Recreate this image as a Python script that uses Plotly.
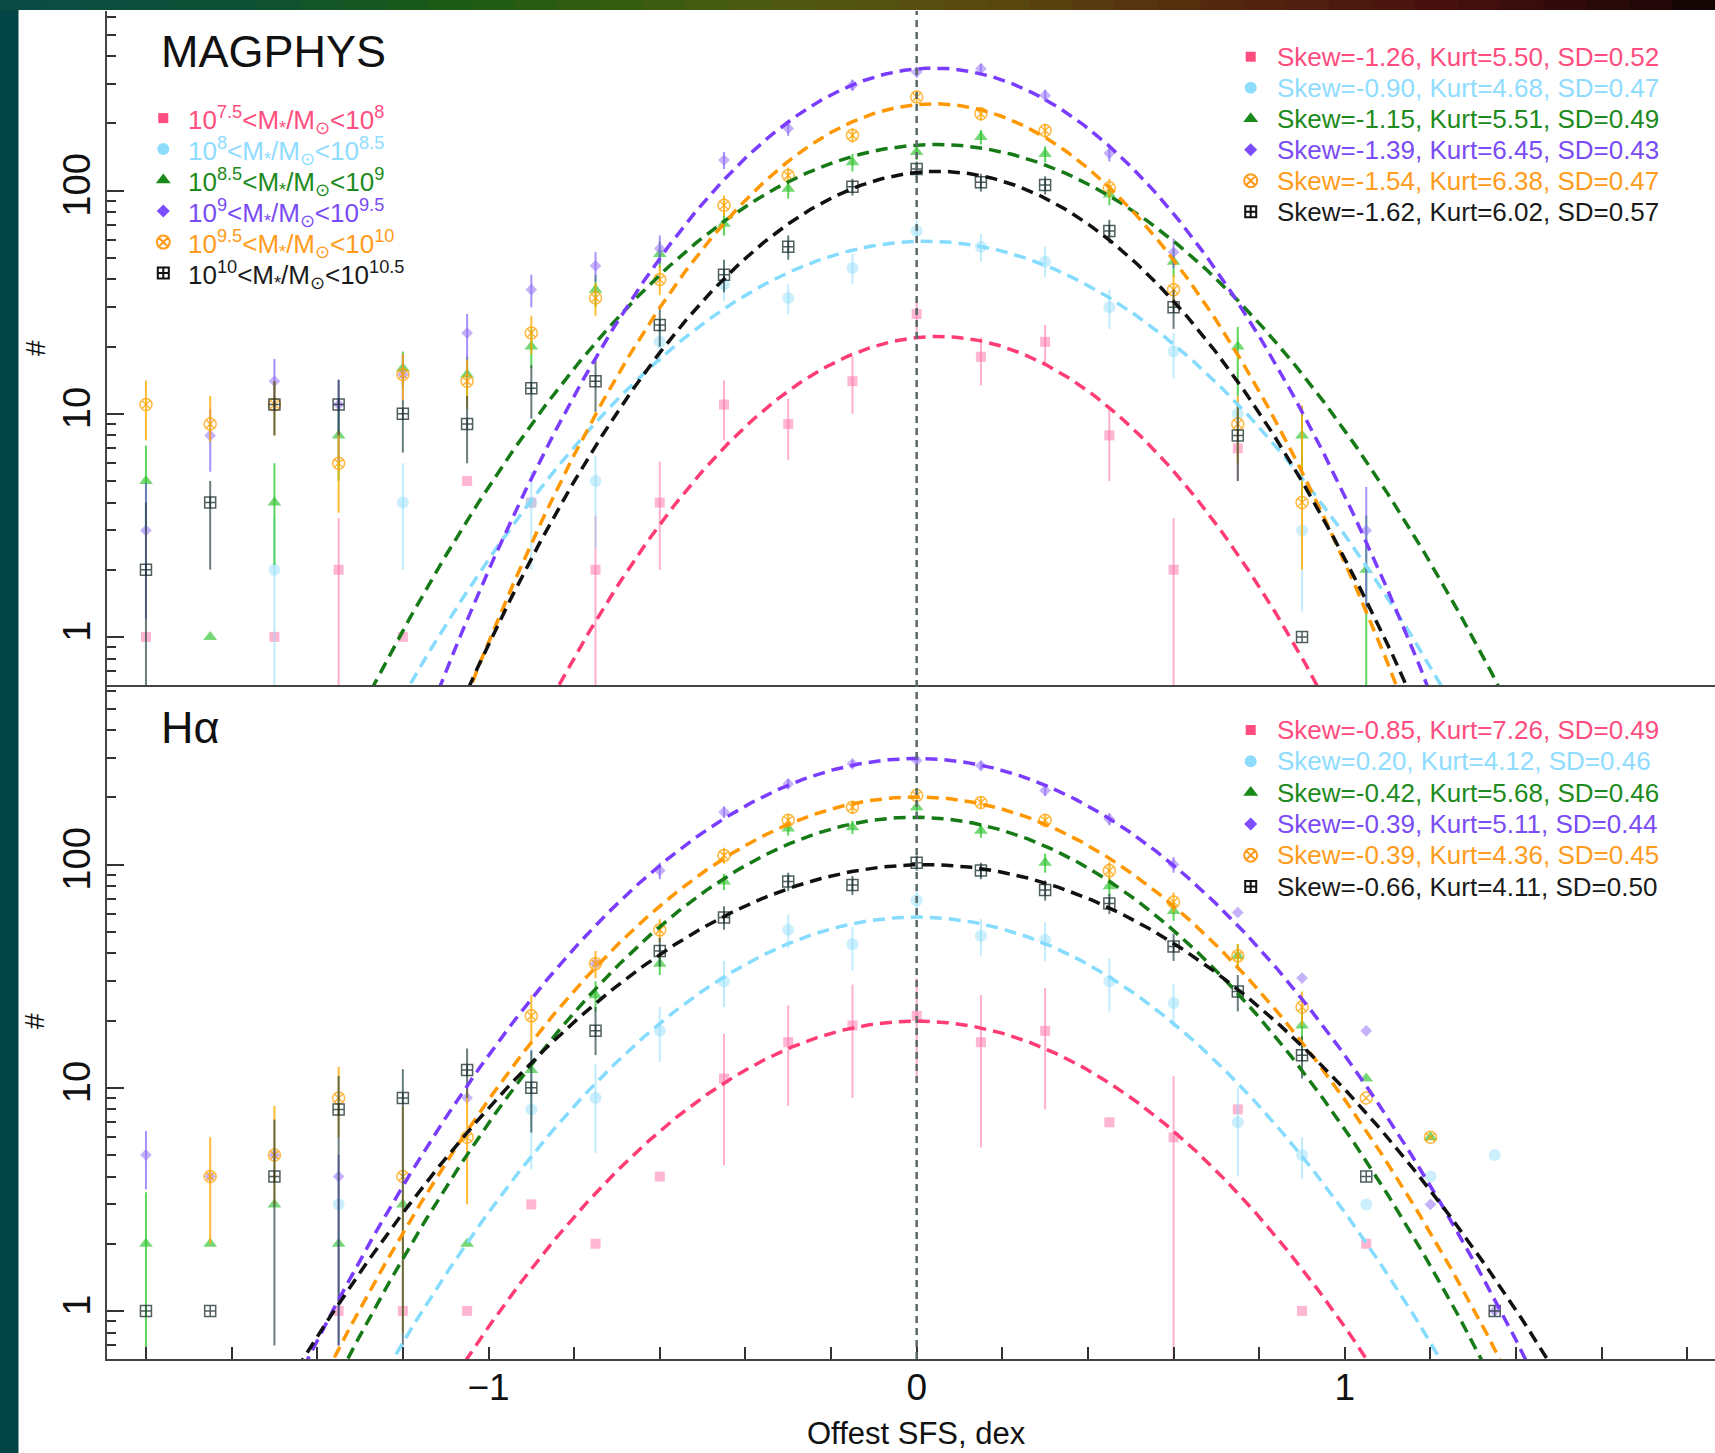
import numpy as np
import plotly.graph_objects as go

# ---------------------------------------------------------------------------
# Histogram bin centres of the offset from the star-forming sequence (dex)
offset_bins = [-1.8, -1.65, -1.5, -1.35, -1.2, -1.05, -0.9, -0.75, -0.6, -0.45, -0.3,
               -0.15, 0.0, 0.15, 0.3, 0.45, 0.6, 0.75, 0.9, 1.05, 1.2, 1.35]

# ---- MAGPHYS panel: counts per bin, upper / lower error bar lengths ----------
magphys_m75 = [1, None, 1, 2, 1, 5, 4, 2, 4, 11, 9, 14, 28, 18, 21, 8, 2, 7, None, None, None, None]
magphys_m75_up = [0, 0, 0, 1.4, 0, 0, 0, 1.5, 2.1, 3.1, 2.7, 4, 4, 4, 4, 2.6, 1.4, 2, 0, 0, 0, 0]
magphys_m75_dn = [0, 0, 0, 2, 0, 0, 0, 2, 2, 3.4, 2.8, 4, 5, 4.6, 4, 3, 2, 2, 0, 0, 0, 0]

magphys_m80 = [None, None, 2, None, 4, None, 4, 5, 21, 38, 33, 45, 66, 56, 48, 30, 19, 10, 3, None, None, None]
magphys_m80_up = [0, 0, 1.5, 0, 2, 0, 1.5, 1.5, 4, 6, 5, 7, 8, 8, 8, 6, 4, 2, 1, 0, 0, 0]
magphys_m80_dn = [0, 0, 2, 0, 2, 0, 2, 2.5, 4, 6, 5, 7, 8, 8, 7, 6, 4.6, 2, 1.7, 0, 0, 0]

magphys_m85 = [5, 1, 4, 8, 16, 15, 20, 36, 52, 71, 102, 134, 149, 174, 146, 96, 48, 20, 8, 2, None, None]
magphys_m85_up = [2.2, 0, 2, 2.5, 3, 3, 4, 6, 7, 8, 10, 12, 12, 13, 12, 10, 7, 4.5, 2.7, 1.5, 0, 0]
magphys_m85_dn = [2, 0, 1.9, 3, 3, 3, 4, 6, 7, 8, 10, 12, 12, 13, 12, 10, 7, 8, 4, 2, 0, 0]

magphys_m90 = [3, 8, 14, 11, 15, 23, 36, 46, 55, 137, 190, 297, 340, 352, 267, 147, 53, None, None, 3, None, None]
magphys_m90_up = [1.9, 2.5, 3.6, 3.2, 3.5, 5, 6, 7, 8, 12, 14, 17, 18, 18, 16, 12, 8, 0, 0, 1.7, 0, 0]
magphys_m90_dn = [1.8, 2.5, 3.6, 5, 3.5, 10, 6, 7, 8, 12, 14, 17, 18, 18, 16, 12, 8, 0, 0, 1.7, 0, 0]

magphys_m95 = [11, 9, 11, 6, 15, 14, 23, 33, 40, 86, 117, 177, 263, 221, 186, 103, 36, 9, 4, None, None, None]
magphys_m95_up = [3.1, 3, 3, 2.4, 3.5, 3.5, 4.5, 5.5, 6, 9, 10, 13, 16, 15, 13, 10, 6, 3, 6.9, 0, 0, 0]
magphys_m95_dn = [3.4, 1.5, 3, 2.4, 3.5, 3.5, 4.5, 5.5, 6, 9, 10, 13, 16, 15, 13, 10, 6, 3, 2, 0, 0, 0]

magphys_m100 = [2, 4, 11, 11, 10, 9, 13, 14, 25, 42, 56, 104, 125, 109, 106, 66, 30, 8, 1, None, None, None]
magphys_m100_up = [2, 1, 3, 3.2, 1.5, 3, 3.5, 3.6, 5, 7, 7, 9, 10, 10, 10, 8, 6, 3, 0, 0, 0, 0]
magphys_m100_dn = [2, 2, 3, 3, 3.3, 3, 3.5, 3.8, 5, 7, 7, 9, 10, 10, 10, 8, 6, 3, 0, 0, 0, 0]

# ---- H-alpha panel -----------------------------------------------------------
halpha_m75 = [None, None, None, 1, 1, 1, 3, 2, 4, 11, 16, 19, 21, 16, 18, 7, 6, 8, 1, 2, None, None]
halpha_m75_up = [0, 0, 0, 0, 0, 0, 0, 0, 0, 6.4, 7.4, 10, 10, 10, 10, 0, 5.3, 0, 0, 0, 0, 0]
halpha_m75_dn = [0, 0, 0, 0, 0, 0, 0, 0, 0, 6.5, 7.7, 10, 10, 10.6, 10, 0, 6, 0, 0, 0, 0, 0]

halpha_m80 = [None, None, None, 3, None, None, 8, 9, 18, 30, 51, 44, 69, 48, 46, 30, 24, 7, 5, 3, 4, 5]
halpha_m80_up = [0, 0, 0, 0, 0, 0, 7, 3.8, 5, 7, 9, 8.5, 10, 9, 9, 8, 5.3, 3, 1, 0, 0, 0]
halpha_m80_dn = [0, 0, 0, 0, 0, 0, 3.7, 3.9, 5, 7, 9, 10.5, 10, 9, 9, 8, 5.3, 3, 1.1, 0, 0, 0]

halpha_m85 = [2, 2, 3, 2, 3, 2, 12, 26, 36, 84, 145, 147, 181, 142, 102, 80, 62, 39, 19, 11, 6, None]
halpha_m85_up = [1.4, 0, 0, 0, 0, 0, 0, 4, 4, 7, 10, 10, 10, 10, 10, 8, 6, 5, 4, 0, 0, 0]
halpha_m85_dn = [2, 0, 0, 0, 0, 0, 0, 4, 4, 7, 10, 10, 10, 10, 10, 8, 6, 5, 4, 0, 0, 0]

halpha_m90 = [5, 4, 5, 4, None, 9, None, 36, 94, 172, 230, 283, 293, 278, 215, 160, 100, 61, 31, 18, 3, 1]
halpha_m90_up = [1.4, 0, 0, 1, 0, 0, 0, 0, 8, 10, 12, 12, 12, 12, 12, 10, 8, 0, 0, 0, 0, 0]
halpha_m90_dn = [1.5, 0, 0, 3.3, 0, 0, 0, 0, 8, 10, 12, 12, 12, 12, 12, 10, 8, 0, 0, 0, 0, 0]

halpha_m95 = [None, 4, 5, 9, 4, 6, 21, 36, 51, 110, 158, 181, 204, 190, 158, 94, 68, 39, 23, 9, 6, None]
halpha_m95_up = [0, 2, 3.3, 3.4, 4.3, 4, 5, 5, 6, 9, 11, 12, 13, 12, 11, 9, 7, 5, 4, 0, 0, 0]
halpha_m95_dn = [0, 2, 2, 3, 3.2, 3, 5, 5, 6, 9, 11, 12, 13, 12, 11, 9, 7, 5, 4, 0, 0, 0]

halpha_m100 = [1, 1, 4, 8, 9, 12, 10, 18, 41, 58, 84, 81, 102, 94, 77, 67, 43, 27, 14, 4, None, 1]
halpha_m100_up = [0, 0, 3.2, 3.3, 3.1, 3, 4.7, 5, 6, 7, 8, 8, 8, 8, 8, 7, 6, 5, 3, 0, 0, 0]
halpha_m100_dn = [0, 0, 3.3, 7.3, 8.3, 3, 3.7, 4, 6, 7, 8, 8, 8, 8, 8, 7, 6, 5, 3, 0, 0, 0]

# ---- Gaussian fits (amplitude, centre, width) per mass bin -------------------
magphys_fit_amp = [22.2, 59.3, 161, 354, 245, 122]
magphys_fit_mu = [0.05, 0.02, 0.045, 0.04, 0.04, 0.05]
magphys_fit_sigma = [0.33, 0.398, 0.393, 0.323, 0.312, 0.336]

halpha_fit_amp = [19.9, 58.2, 163, 299, 201, 100]
halpha_fit_mu = [0.0, 0.0, -0.005, 0.0, 0.0, 0.02]
halpha_fit_sigma = [0.398, 0.405, 0.396, 0.404, 0.40, 0.455]

# ---- labels ------------------------------------------------------------------
mass_bin_labels = [
    "10<sup>7.5</sup>&lt;M<sub>*</sub>/M<sub>⊙</sub>&lt;10<sup>8</sup>",
    "10<sup>8</sup>&lt;M<sub>*</sub>/M<sub>⊙</sub>&lt;10<sup>8.5</sup>",
    "10<sup>8.5</sup>&lt;M<sub>*</sub>/M<sub>⊙</sub>&lt;10<sup>9</sup>",
    "10<sup>9</sup>&lt;M<sub>*</sub>/M<sub>⊙</sub>&lt;10<sup>9.5</sup>",
    "10<sup>9.5</sup>&lt;M<sub>*</sub>/M<sub>⊙</sub>&lt;10<sup>10</sup>",
    "10<sup>10</sup>&lt;M<sub>*</sub>/M<sub>⊙</sub>&lt;10<sup>10.5</sup>",
]
magphys_stats = [
    "Skew=-1.26, Kurt=5.50, SD=0.52",
    "Skew=-0.90, Kurt=4.68, SD=0.47",
    "Skew=-1.15, Kurt=5.51, SD=0.49",
    "Skew=-1.39, Kurt=6.45, SD=0.43",
    "Skew=-1.54, Kurt=6.38, SD=0.47",
    "Skew=-1.62, Kurt=6.02, SD=0.57",
]
halpha_stats = [
    "Skew=-0.85, Kurt=7.26, SD=0.49",
    "Skew=0.20, Kurt=4.12, SD=0.46",
    "Skew=-0.42, Kurt=5.68, SD=0.46",
    "Skew=-0.39, Kurt=5.11, SD=0.44",
    "Skew=-0.39, Kurt=4.36, SD=0.45",
    "Skew=-0.66, Kurt=4.11, SD=0.50",
]
panel_titles = ["MAGPHYS", "Hα"]
x_title = "Offest SFS, dex"
y_title = "#"

# ---------------------------------------------------------------------------
# styling per mass bin
symbols = ["square", "circle", "triangle-up", "diamond", "circle-x-open", "square-cross-open"]
marker_sizes = [10, 12, 12, 9, 12, 11]
point_colors = ["rgba(255,110,165,0.5)", "rgba(140,220,250,0.45)", "rgba(45,195,45,0.65)",
                "rgba(150,115,245,0.55)", "rgba(255,160,0,0.75)", "rgba(20,40,40,0.75)"]
bar_colors = ["rgba(255,110,165,0.55)", "rgba(140,220,250,0.55)", "rgba(40,200,40,0.75)",
              "rgba(110,70,250,0.6)", "rgba(255,170,0,0.8)", "rgba(40,70,70,0.7)"]
fit_colors = ["#ff3d74", "#86dcff", "#167a16", "#7a3cff", "#ff9800", "#111111"]
key_colors = ["#ff4d80", "#8edcfb", "#1a8a1a", "#7b4dff", "#ff9a1a", "#111111"]
text_colors = ["#ff4d80", "#8fdcff", "#208a20", "#7a4cf5", "#ff9c20", "#1a1a1a"]
FONT = "Liberation Sans, Arial, Helvetica, sans-serif"

W, H = 1715, 1453
L, R, T, B = 107, 1715, 11, 1359          # plot area in pixels
X_RANGE = [-1.891, 1.8645]
Y_RANGE = [-0.2156, 2.805]


def fx(px):
    return (px - L) / (R - L)


def fy(py):
    return (B - py) / (B - T)


fig = go.Figure()

panels = [
    ("x", "y", [magphys_m75, magphys_m80, magphys_m85, magphys_m90, magphys_m95, magphys_m100],
     [magphys_m75_up, magphys_m80_up, magphys_m85_up, magphys_m90_up, magphys_m95_up, magphys_m100_up],
     [magphys_m75_dn, magphys_m80_dn, magphys_m85_dn, magphys_m90_dn, magphys_m95_dn, magphys_m100_dn],
     magphys_fit_amp, magphys_fit_mu, magphys_fit_sigma),
    ("x2", "y2", [halpha_m75, halpha_m80, halpha_m85, halpha_m90, halpha_m95, halpha_m100],
     [halpha_m75_up, halpha_m80_up, halpha_m85_up, halpha_m90_up, halpha_m95_up, halpha_m100_up],
     [halpha_m75_dn, halpha_m80_dn, halpha_m85_dn, halpha_m90_dn, halpha_m95_dn, halpha_m100_dn],
     halpha_fit_amp, halpha_fit_mu, halpha_fit_sigma),
]

xfine = np.linspace(X_RANGE[0], X_RANGE[1], 600)

for xa, ya, counts, ups, dns, amps, mus, sigs in panels:
    # histogram points with error bars
    for i in range(6):
        open_sym = symbols[i].endswith("open")
        fig.add_trace(go.Scatter(
            x=offset_bins, y=counts[i], xaxis=xa, yaxis=ya, mode="markers",
            marker=dict(symbol=symbols[i], size=marker_sizes[i], color=point_colors[i],
                        line=dict(width=1.5 if open_sym else 0, color=point_colors[i])),
            error_y=dict(type="data", symmetric=False, array=ups[i], arrayminus=dns[i],
                         color=bar_colors[i], thickness=2, width=0),
            showlegend=False, hoverinfo="skip"))
    # fitted Gaussians
    for i in range(6):
        yfit = amps[i] * np.exp(-(xfine - mus[i]) ** 2 / (2 * sigs[i] ** 2))
        fig.add_trace(go.Scatter(
            x=xfine, y=yfit, xaxis=xa, yaxis=ya, mode="lines",
            line=dict(color=fit_colors[i], width=3.5, dash="12px,7px"),
            showlegend=False, hoverinfo="skip"))

# key symbols drawn on a hidden overlay frame spanning the plot area
left_key_x, left_text_x = 163.3, 185.5
right_key_x, right_text_x = 1250.7, 1275
left_rows = [118.1 + 31.0 * k for k in range(6)]
right_top_rows = [56.7 + 31.0 * k for k in range(6)]
right_bot_rows = [730.0 + 31.3 * k for k in range(6)]
key_sizes = [10, 12, 13, 10, 13, 11]

for i in range(6):
    open_sym = symbols[i].endswith("open")
    fig.add_trace(go.Scatter(
        x=[fx(left_key_x), fx(right_key_x), fx(right_key_x)],
        y=[fy(left_rows[i]), fy(right_top_rows[i]), fy(right_bot_rows[i])],
        xaxis="x3", yaxis="y3", mode="markers", cliponaxis=False,
        marker=dict(symbol=symbols[i], size=key_sizes[i], color=key_colors[i],
                    line=dict(width=2 if open_sym else 0, color=key_colors[i])),
        showlegend=False, hoverinfo="skip"))

annotations = []
for i in range(6):
    annotations.append(dict(x=fx(left_text_x), y=fy(left_rows[i] + 1.5), xref="paper", yref="paper",
                            text=mass_bin_labels[i], showarrow=False, xanchor="left",
                            yanchor="middle", font=dict(family=FONT, size=26, color=text_colors[i])))
    annotations.append(dict(x=fx(right_text_x), y=fy(right_top_rows[i]), xref="paper", yref="paper",
                            text=magphys_stats[i], showarrow=False, xanchor="left",
                            yanchor="middle", font=dict(family=FONT, size=26, color=text_colors[i])))
    annotations.append(dict(x=fx(right_text_x), y=fy(right_bot_rows[i]), xref="paper", yref="paper",
                            text=halpha_stats[i], showarrow=False, xanchor="left",
                            yanchor="middle", font=dict(family=FONT, size=26, color=text_colors[i])))

for title, py in zip(panel_titles, [52, 727]):
    annotations.append(dict(x=fx(159), y=fy(py), xref="paper", yref="paper", text=title,
                            showarrow=False, xanchor="left", yanchor="middle",
                            font=dict(family=FONT, size=45, color="#111111")))
for py in [348, 1021]:
    annotations.append(dict(x=fx(35), y=fy(py), xref="paper", yref="paper", text=y_title,
                            textangle=-90, showarrow=False, xanchor="center", yanchor="middle",
                            font=dict(family=FONT, size=28, color="#111111")))
annotations.append(dict(x=fx(917), y=fy(1433), xref="paper", yref="paper", text=x_title,
                        showarrow=False, xanchor="center", yanchor="middle",
                        font=dict(family=FONT, size=31, color="#111111")))

# background: dark frame strip on the left, coloured strip on top, white canvas
shapes = [dict(type="rect", xref="paper", yref="paper", x0=fx(18.5), x1=fx(W), y0=fy(H), y1=fy(10),
               fillcolor="white", line=dict(width=0), layer="below")]
strip_stops = [(0, (12, 74, 68)), (250, (14, 80, 52)), (437, (26, 90, 22)), (600, (50, 92, 16)),
               (766, (78, 90, 18)), (985, (90, 74, 16)), (1203, (84, 42, 14)), (1422, (74, 18, 16)),
               (1640, (36, 8, 8)), (1715, (14, 4, 4))]
seg = 40
for k in range(seg):
    xa0 = W * k / seg
    xa1 = W * (k + 1) / seg
    xm = 0.5 * (xa0 + xa1)
    for j in range(len(strip_stops) - 1):
        p0, c0 = strip_stops[j]
        p1, c1 = strip_stops[j + 1]
        if p0 <= xm <= p1:
            t = (xm - p0) / (p1 - p0)
            c = tuple(int(round(c0[n] + t * (c1[n] - c0[n]))) for n in range(3))
            break
    shapes.append(dict(type="rect", xref="paper", yref="paper", x0=fx(xa0), x1=fx(xa1 + 1),
                       y0=fy(10), y1=fy(0), fillcolor="rgb(%d,%d,%d)" % c,
                       line=dict(width=0), layer="below"))
# vertical reference line at zero offset through both panels
shapes.append(dict(type="line", xref="x", yref="paper", x0=0, x1=0, y0=0, y1=1,
                   line=dict(color="#5a6868", width=2.5, dash="7px,5px"), layer="above"))

minor_logticks = [d * 10 ** e for e in (-1, 0, 1, 2) for d in range(2, 10)]
minor_logticks = [v for v in minor_logticks if 0.6 < v < 640]

yaxis_common = dict(type="log", range=Y_RANGE, tickmode="array", tickvals=[1, 10, 100],
                    ticktext=["1", "10", "100"], ticks="inside", ticklen=17, tickwidth=2,
                    tickcolor="#333333", showline=True, linecolor="#444444", linewidth=2,
                    showgrid=False, zeroline=False, tickangle=-90, automargin=False,
                    ticklabelstandoff=0,
                    tickfont=dict(family=FONT, size=38, color="#111111"),
                    minor=dict(tickmode="array", tickvals=minor_logticks, ticks="inside",
                               ticklen=9, tickwidth=2, tickcolor="#333333", showgrid=False))

fig.update_layout(
    width=W, height=H,
    margin=dict(l=L, r=W - R, t=T, b=H - B, pad=0),
    paper_bgcolor="#034545", plot_bgcolor="rgba(0,0,0,0)",
    template="none", showlegend=False,
    xaxis=dict(domain=[0, 1], anchor="y", range=X_RANGE, showticklabels=False, ticks="",
               showline=True, linecolor="#444444", linewidth=2, showgrid=False,
               zeroline=False, automargin=False),
    yaxis=dict(domain=[0.5, 1], anchor="x", **yaxis_common),
    xaxis2=dict(domain=[0, 1], anchor="y2", range=X_RANGE, tickmode="linear", tick0=0, dtick=1,
                ticks="inside", ticklen=12, tickwidth=2, tickcolor="#333333",
                showline=True, linecolor="#444444", linewidth=2, showgrid=False,
                zeroline=False, automargin=False, ticklabelstandoff=-5,
                tickfont=dict(family=FONT, size=37, color="#111111"),
                minor=dict(tickmode="linear", tick0=0, dtick=0.2, ticks="inside", ticklen=12,
                           tickwidth=2, tickcolor="#333333", showgrid=False)),
    yaxis2=dict(domain=[0, 0.5], anchor="x2", **yaxis_common),
    xaxis3=dict(domain=[0, 1], anchor="y3", range=[0, 1], visible=False, fixedrange=True),
    yaxis3=dict(domain=[0, 1], anchor="x3", range=[0, 1], visible=False, fixedrange=True),
    annotations=annotations, shapes=shapes,
)

fig.write_html("out.html", post_script="document.body.style.margin='0px';")
